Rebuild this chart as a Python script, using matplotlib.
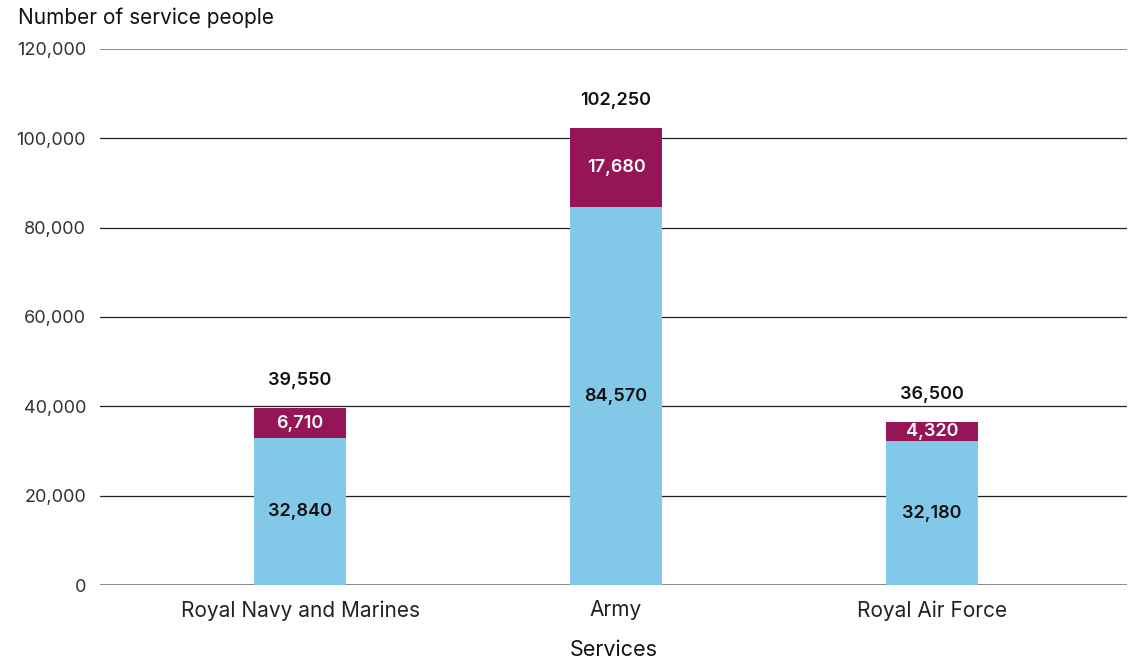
import matplotlib.pyplot as plt

services = ['Royal Navy and Marines', 'Army', 'Royal Air Force']
lower = [32840, 84570, 32180]
upper = [6710, 17680, 4320]
totals = [39550, 102250, 36500]
yticks = [0, 20000, 40000, 60000, 80000, 100000, 120000]

plt.rcParams['font.family'] = ['Inter', 'DejaVu Sans']

fig = plt.figure(figsize=(11.31, 6.59), dpi=100)
ax = fig.add_axes([100 / 1131, 74 / 659, 1027 / 1131, 536 / 659])

blue = '#82c8e8'
maroon = '#961556'

x = list(range(len(services)))
for y in yticks:
    c = '#777777' if y in (0, 120000) else '#222222'
    ax.axhline(y, color=c, lw=1.2 if y in (0, 120000) else 0.9, zorder=0)

ax.bar(x, lower, width=0.29, color=blue, zorder=2)
ax.bar(x, upper, width=0.29, bottom=lower, color=maroon, zorder=2)

for i in x:
    ax.text(i, lower[i] / 2, f'{lower[i]:,}', ha='center', va='center',
            fontsize=13, fontweight='semibold', color='#111111', zorder=3)
    ax.text(i, lower[i] + upper[i] / 2, f'{upper[i]:,}', ha='center', va='center',
            fontsize=13, fontweight='semibold', color='white', zorder=3)
    ax.annotate(f'{totals[i]:,}', (i, totals[i]), xytext=(0, 20), textcoords='offset points',
                ha='center', va='center', fontsize=13, fontweight='semibold', color='#111111')

ax.set_xlim(-0.633, 2.617)
ax.set_ylim(0, 120000)
ax.set_yticks(yticks)
ax.set_yticklabels([f'{v:,}' for v in yticks], fontsize=13, color='#333333')
ax.set_xticks(x)
ax.set_xticklabels(services, fontsize=15, color='#222222')
ax.tick_params(axis='y', length=0, pad=10)
ax.tick_params(axis='x', length=0, pad=11)
for s in ax.spines.values():
    s.set_visible(False)

ax.set_xlabel('Services', fontsize=15.5, color='#111111', labelpad=14)
fig.text(18 / 1131, 1 - 18 / 659, 'Number of service people', fontsize=15,
         color='#111111', ha='left', va='center')

fig.savefig('out.png', dpi=100)
